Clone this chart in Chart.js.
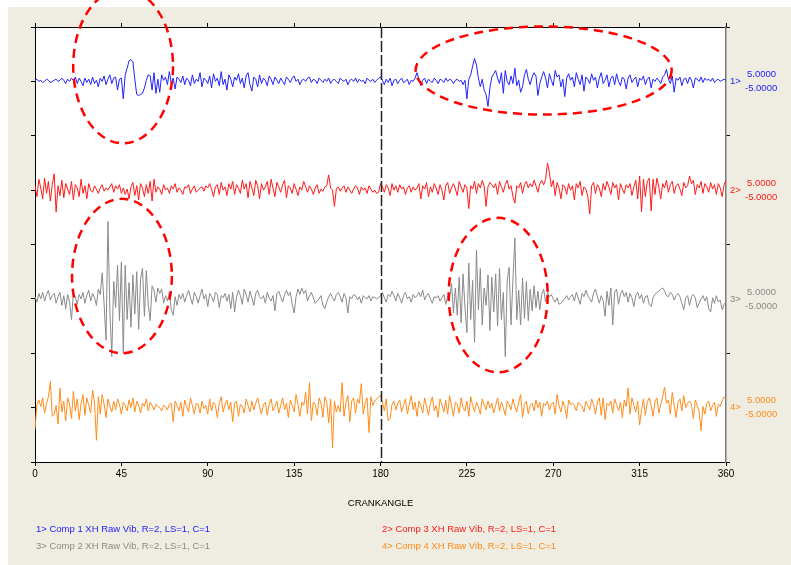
<!DOCTYPE html>
<html>
<head>
<meta charset="utf-8">
<title>Raw Vib</title>
<script src="https://cdn.jsdelivr.net/npm/chart.js@4.4.1/dist/chart.umd.min.js"></script>
<style>
body { margin:0; background:#fff; }
canvas { display:block; }
</style>
</head>
<body>
<canvas id="vibChart" width="791" height="565"></canvas>
<script>

// crank angle ticks (deg)
var angleTicks = [0, 45, 90, 135, 180, 225, 270, 315, 360];

var traceNames = ['1> Comp 1 XH Raw Vib, R=2, LS=1, C=1', '2> Comp 3 XH Raw Vib, R=2, LS=1, C=1',
                  '3> Comp 2 XH Raw Vib, R=2, LS=1, C=1', '4> Comp 4 XH Raw Vib, R=2, LS=1, C=1'];
var traceTags = ['1>', '2>', '3>', '4>'];
var traceMax = ['5.0000', '5.0000', '5.0000', '5.0000'];
var traceMin = ['-5.0000', '-5.0000', '-5.0000', '-5.0000'];
var traceColors = ['#2222ff', '#ff1a1a', '#8a8a8a', '#ff8c1a'];
var traceBase = [7, 5, 3, 1];

// one sample per degree, 0..360
var comp1 = [0.1,0.2,0.0,0.1,-0.1,0.0,0.2,0.1,-0.1,0.0,
0.1,0.2,0.0,0.1,0.3,0.1,-0.2,0.2,0.0,0.3,
0.1,0.4,-0.2,0.3,0.0,-0.4,0.3,-0.1,0.2,-0.3,
0.4,-0.2,0.1,-0.5,0.3,0.0,0.5,-0.3,0.2,0.6,
-0.2,0.3,0.4,-0.8,0.2,0.3,-1.6,0.6,1.2,1.9,
2.0,1.8,0.2,-1.2,-1.3,-1.2,-1.1,-0.6,0.1,0.6,
0.5,-0.8,0.8,-1.1,0.2,-1.0,0.6,0.1,0.4,-0.3,
0.9,-0.2,0.3,-0.7,0.4,0.2,-0.1,0.5,-0.3,0.3,
0.1,-0.4,0.6,-0.2,0.2,0.0,0.8,-0.5,0.3,0.1,
-0.2,0.5,-0.6,0.7,0.0,0.3,-0.4,0.9,-0.3,0.2,
-0.8,0.6,0.2,-0.5,0.4,0.1,0.7,-0.2,0.3,-0.6,
0.5,0.8,-0.3,-0.9,0.4,0.2,-0.5,0.6,-0.2,0.3,
0.1,-0.4,0.5,0.2,-0.3,0.4,0.1,-0.2,0.3,0.0,
-0.3,0.4,0.2,-0.1,0.3,0.5,0.0,0.2,-0.3,0.1,
0.2,0.0,0.3,0.4,-0.1,0.2,0.1,-0.2,0.3,0.1,
-0.1,0.2,0.0,0.3,-0.2,0.1,0.2,0.0,-0.2,0.3,
0.1,0.0,0.2,-0.3,0.1,0.2,0.0,0.3,-0.1,0.2,
0.0,0.1,-0.2,0.3,0.1,0.0,0.2,-0.1,0.1,0.3,
0.4,0.1,-0.3,0.2,-0.1,0.3,-0.4,0.1,0.2,-0.2,
0.1,0.3,-0.1,0.0,0.2,-0.3,0.1,0.0,0.3,0.8,
0.2,-0.4,0.1,0.3,-0.2,0.2,0.0,-0.1,0.3,0.1,
-0.2,0.2,0.1,-0.1,0.3,0.0,0.2,0.1,-0.2,0.1,
0.2,0.0,0.1,-0.3,0.1,-1.6,0.2,0.6,1.4,2.1,
1.5,0.3,-0.5,0.2,-0.8,-1.2,-2.3,-0.6,0.4,0.7,
1.0,0.3,-0.2,0.8,-1.1,1.0,0.0,-0.3,0.5,-0.2,
1.2,-0.4,0.1,-1.0,-0.5,0.6,1.1,0.2,-0.3,0.4,
0.8,0.5,-1.3,-0.2,0.4,0.9,0.3,-0.6,0.7,0.1,
-0.4,1.0,0.4,0.6,-0.5,0.2,-1.4,0.3,0.7,0.1,
0.4,-0.5,0.8,0.2,-0.3,0.6,-0.9,0.4,0.2,-0.2,
0.7,0.1,0.4,-0.6,0.3,0.8,-0.2,0.1,0.6,-0.5,
0.3,0.5,-0.3,0.7,0.0,-0.4,0.4,0.2,-0.7,0.3,
0.6,-0.1,0.2,0.4,-0.5,0.3,0.1,0.5,-0.3,0.2,
0.4,-0.6,0.2,0.0,0.3,0.1,-0.2,0.4,0.6,1.1,
0.2,-0.2,0.5,-1.0,0.3,0.1,0.4,-0.4,0.2,0.3,
-0.2,0.4,0.1,-0.6,0.3,0.2,0.0,0.4,-0.1,0.3,
0.1,0.2,0.0,0.3,-0.1,0.1,0.2,0.0,0.1,0.2,
0.1];

var comp3 = [0.4,-0.6,1.0,0.2,-0.8,1.1,-0.3,0.8,-1.0,0.5,
1.5,-2.0,0.4,-0.5,0.9,-0.7,0.6,0.1,-0.4,0.8,
-0.9,0.5,0.2,-0.6,1.0,-0.3,0.4,-0.8,0.6,0.0,
-0.2,0.4,0.1,-0.3,0.2,0.5,-0.1,0.2,0.0,0.3,
0.6,-0.2,0.4,0.1,0.5,-0.3,0.2,-0.4,0.1,-0.8,
0.3,0.7,-0.5,0.4,-0.9,0.6,0.2,-0.6,0.5,-0.3,
0.8,-1.0,1.0,-0.2,0.3,0.1,-0.4,0.5,0.0,0.2,
-0.3,0.4,0.1,0.6,-0.2,0.2,0.0,-0.4,0.3,0.2,
0.5,-0.3,0.1,0.4,-0.2,0.0,0.2,0.3,-0.1,0.4,
0.2,0.6,0.1,-0.6,0.3,0.5,-0.4,0.7,0.0,0.3,
-0.5,0.6,0.1,0.8,-0.4,0.5,0.2,-0.3,0.9,0.1,
0.6,-0.7,0.8,0.2,-0.5,0.9,0.4,-0.8,0.6,0.0,
0.3,0.8,-0.4,1.0,0.2,-0.6,0.7,0.3,-0.2,0.5,
0.9,-0.7,0.4,0.2,-0.3,0.6,0.1,-0.5,0.3,0.0,
0.8,0.3,-0.2,0.4,0.1,-0.4,0.2,0.5,-0.3,0.1,
-0.1,0.3,0.4,1.4,0.2,0.0,-1.5,0.1,0.3,-0.1,
0.2,0.4,-0.2,0.3,0.0,-0.3,0.1,0.4,0.2,-0.4,
0.3,0.0,0.2,-0.3,0.4,0.1,-0.2,0.0,-0.3,-0.2,
0.6,0.3,-0.2,0.5,0.2,-0.5,0.6,0.0,0.4,-0.2,
0.5,0.1,0.3,-0.4,0.2,0.4,-0.2,0.3,0.0,0.2,
0.6,-0.8,0.4,0.1,0.7,-0.6,0.3,-0.2,0.6,0.2,
-0.4,0.5,0.0,-0.9,0.4,0.7,-0.3,0.2,0.6,0.1,
-0.5,0.8,0.3,-0.2,0.5,0.2,-1.7,0.4,0.1,0.8,
-0.3,0.6,0.2,0.9,0.4,-1.5,0.3,0.7,0.5,0.2,
0.6,-0.4,0.8,0.3,-0.2,0.5,0.9,0.1,0.4,-0.6,
-1.2,0.4,0.2,0.7,-0.3,0.5,0.8,0.2,0.6,0.3,
0.9,0.4,-0.2,0.6,0.9,0.5,1.0,2.5,1.6,0.3,
0.9,-0.5,0.7,0.2,-0.8,0.5,0.3,-0.4,0.6,0.0,
0.4,-0.9,0.6,0.2,0.8,-0.5,0.3,0.1,-0.6,-2.2,
0.4,0.7,-0.3,0.5,0.2,-0.6,0.6,0.0,0.8,0.3,
-0.4,0.7,0.2,0.5,-0.9,0.6,0.1,-0.3,0.5,0.2,
0.6,-0.5,0.3,0.9,-0.8,1.3,-2.0,1.0,-0.6,0.8,
1.1,-1.9,1.0,-0.4,1.1,0.3,-0.8,0.6,0.2,0.9,
-0.2,0.5,0.8,-0.3,0.4,0.6,0.1,-0.5,0.7,0.2,
0.4,1.3,0.6,0.9,-0.4,0.5,0.2,0.8,-0.3,0.6,
0.3,-0.2,0.7,0.1,0.5,-0.4,0.6,0.2,-0.6,0.5,
0.9];

var comp2 = [0.2,-0.3,0.5,0.0,0.6,-0.2,0.4,0.8,-0.1,0.3,
0.5,-0.4,0.2,0.6,-0.6,0.3,-0.9,0.4,-0.3,-1.9,
0.5,0.2,-0.5,0.4,0.0,0.6,-0.4,0.3,0.8,-0.2,
0.5,0.1,-0.6,0.9,0.4,2.4,-0.5,-3.8,7.1,-1.0,
-5.3,1.6,-0.8,3.1,-2.0,3.4,-5.0,3.1,-1.9,1.5,
-2.6,2.2,-1.4,2.5,-2.8,1.8,2.8,-1.6,2.6,-0.5,
-2.0,1.2,0.8,-0.3,1.0,0.5,0.9,-0.4,0.3,-0.2,
0.6,-1.0,-1.5,0.2,-0.6,0.4,0.0,0.5,-0.3,0.3,
0.8,0.1,-0.5,0.6,0.2,-0.4,0.3,0.9,0.0,0.4,
-0.7,0.5,0.2,-0.3,0.6,0.4,-0.8,0.3,0.1,0.5,
-0.2,0.4,-0.9,0.6,-1.2,0.2,0.8,0.3,-0.5,0.9,
0.4,-0.3,0.7,0.1,-0.6,0.5,0.8,0.2,0.0,0.3,
-0.4,0.6,0.1,-0.2,0.3,-1.1,0.5,0.7,0.2,-0.3,
0.4,0.8,0.3,0.6,-0.5,-1.3,0.2,0.9,0.4,1.0,
0.5,0.8,-0.2,0.3,0.6,0.1,-0.4,-0.2,0.0,0.3,
-0.6,-0.9,-0.3,0.2,0.5,0.1,-0.2,0.4,0.6,0.2,
-0.3,0.5,0.1,-1.3,0.2,0.0,0.4,0.3,-0.1,0.2,
-0.4,0.3,0.1,0.0,0.3,-0.2,0.2,0.1,0.0,0.1,
0.3,0.6,0.1,-0.3,0.4,0.2,0.7,0.3,-0.2,0.5,
0.1,-0.4,0.3,0.6,0.0,0.2,-0.3,0.4,0.1,0.3,
0.6,0.2,0.8,-0.1,0.3,0.5,0.0,-0.4,0.2,0.1,
0.3,-0.2,0.1,0.4,-0.5,0.2,0.0,1.4,-1.3,1.0,
-1.5,2.0,-2.2,2.3,-0.8,-3.1,3.3,-1.9,1.7,-4.0,
4.5,-1.0,2.8,-2.4,1.0,-0.6,2.2,-2.9,2.0,-1.2,
2.3,-2.5,2.8,-1.9,0.6,-5.3,1.7,2.9,-2.4,1.8,
5.6,-1.9,0.8,-2.4,1.9,-1.8,1.6,-2.0,0.9,-1.1,
1.2,-0.8,0.7,-1.0,0.4,0.9,-0.3,0.6,0.2,0.4,
0.0,-0.3,0.1,-0.5,-0.4,-0.2,0.0,0.3,-0.1,0.2,
0.4,-0.2,0.6,0.1,-0.5,0.5,0.2,0.8,0.3,0.0,
-0.3,0.5,0.9,0.2,-0.4,0.3,-0.2,-1.6,0.7,-0.6,
1.0,-2.4,0.6,0.9,-0.5,0.4,0.8,0.2,0.6,-0.3,
0.5,0.1,-0.7,0.3,0.6,0.0,0.4,-0.4,0.2,0.3,
-0.5,-0.7,0.1,0.4,0.6,0.7,0.9,1.0,0.7,0.3,
0.2,0.6,0.4,-0.1,0.3,0.5,0.2,-0.4,-1.0,0.1,
0.3,-0.6,0.2,0.4,0.1,-0.8,-0.4,0.0,0.3,-0.2,
0.2,-0.9,-1.2,0.1,-0.4,0.3,-0.3,-0.1,-1.0,-0.5,
-0.3];

var comp4 = [-2.0,0.3,0.7,0.1,0.9,-0.5,0.4,1.0,2.4,-0.8,
-0.6,0.2,-1.5,1.8,-0.4,0.6,-1.2,0.9,0.3,-1.0,
1.5,-0.3,0.8,-1.1,0.4,1.2,-0.7,0.9,0.2,-0.5,
1.6,0.5,-3.0,1.0,-0.6,1.2,0.3,-0.9,0.8,0.1,
-0.4,0.6,-0.2,0.8,0.3,-0.6,0.5,0.2,-0.3,0.7,
0.0,0.9,-0.4,0.6,0.2,-0.5,0.4,0.1,0.8,-0.3,
0.5,0.2,-0.2,0.3,0.1,0.0,-0.3,0.2,0.1,-0.2,
0.3,0.4,-1.3,0.6,0.2,-0.3,0.5,-0.8,0.7,0.1,
-0.4,0.9,0.2,-0.6,0.4,0.3,-0.5,0.6,-0.1,0.2,
-0.6,0.8,-0.3,0.5,0.2,-0.9,0.4,1.0,-0.4,0.3,
0.7,-0.2,0.5,-1.3,0.4,0.6,-0.8,0.3,0.1,-0.5,
0.8,0.2,-0.4,0.6,-0.2,0.4,0.9,0.1,-0.6,0.3,
0.5,-0.7,0.3,0.8,-0.3,0.1,0.6,-0.5,0.2,0.9,
-0.2,0.4,-0.9,0.7,0.2,-0.4,1.2,0.3,-0.8,0.5,
0.2,1.4,-0.6,2.3,-1.2,0.5,0.3,-0.7,0.9,0.4,
-0.9,1.0,0.5,-1.4,0.8,-3.7,0.6,-0.4,0.2,-0.4,
2.3,-0.8,0.5,1.1,-1.3,0.6,0.9,-0.5,0.8,0.4,
2.2,-0.6,0.4,0.9,-2.3,1.0,0.2,0.6,0.8,1.0,
1.1,0.5,-0.3,0.8,-1.2,-1.0,0.3,0.6,-0.2,0.4,
0.7,-0.4,0.2,0.8,-0.6,0.3,1.1,-0.2,0.5,-0.8,
0.6,0.2,-0.5,0.9,0.1,-0.7,0.4,1.0,-0.3,0.2,
-0.9,0.8,0.3,-0.4,0.7,-0.6,1.1,0.2,-0.8,0.5,
0.3,-0.5,0.9,0.0,-0.3,0.6,-0.8,1.0,0.2,-0.4,
0.5,0.1,-0.6,0.8,0.3,-0.2,0.6,0.0,0.4,-0.5,
0.2,0.9,-0.3,0.5,0.0,-0.7,0.6,0.3,-0.2,0.8,
0.1,-0.4,0.5,1.2,-0.9,0.3,0.6,-0.6,0.2,0.4,
-0.3,0.7,0.0,0.5,-0.8,0.4,0.2,0.6,-0.2,0.3,
0.5,-0.6,1.2,0.2,-0.4,0.6,0.1,-1.0,0.7,0.3,
0.4,0.2,-0.3,0.5,0.3,0.1,-0.4,0.6,0.2,-0.2,
0.8,0.3,-0.6,0.5,0.9,-0.7,0.9,-1.1,0.4,0.2,
0.6,-0.5,0.8,0.3,-0.3,0.5,-0.9,0.7,0.1,1.8,
-0.6,0.9,0.2,-0.4,0.6,-1.6,-0.2,0.8,-0.7,0.5,
0.9,0.2,-0.8,0.6,0.9,-0.5,0.3,1.0,1.9,0.4,
0.7,-0.6,1.4,0.2,-0.9,0.5,0.8,-0.3,1.1,0.0,
0.4,0.6,0.3,-1.0,0.7,0.2,-0.4,-2.1,0.1,-0.6,
0.4,0.6,-0.3,0.2,0.5,-0.8,0.3,0.1,0.6,1.0,
0.8];

var traceValues = [comp1, comp3, comp2, comp4];

// red dashed rings drawn over the traces (deg, trace units)
var ringAngle = [45.9, 265, 45.3, 241.3];
var ringLevel = [7.28, 7.2, 3.42, 3.07];
var ringHalfWidth = [26, 66.7, 26, 25.8];
var ringHalfHeight = [1.42, 0.81, 1.42, 1.42];

function buildDatasets() {
    var sets = [];
    traceValues.forEach(function(vals, i) {
        var pts = [];
        vals.forEach(function(v, deg) {
            // each band is +/-5 around its base line
            pts.push({x: deg, y: traceBase[i] + v / 5});
        });
        sets.push({
            label: traceNames[i],
            data: pts,
            borderColor: traceColors[i],
            borderWidth: 1,
            pointRadius: 0,
            tension: 0,
            fill: false
        });
    });
    return sets;
}

var panelPlugin = {
    id: 'panel',
    beforeDraw: function(chart) {
        var ctx = chart.ctx, a = chart.chartArea;
        ctx.save();
        ctx.fillStyle = '#fff';
        ctx.fillRect(0, 0, chart.width, chart.height);
        ctx.fillStyle = '#efece1';
        ctx.fillRect(8, 7, chart.width - 8, chart.height - 7);
        ctx.fillStyle = '#fff';
        ctx.fillRect(a.left, a.top, a.right - a.left, a.bottom - a.top);
        ctx.restore();
    },
    afterDraw: function(chart) {
        var ctx = chart.ctx, a = chart.chartArea;
        var xs = chart.scales.x, ys = chart.scales.y;
        ctx.save();

        // TDC marker
        var x180 = Math.round(xs.getPixelForValue(180)) + 0.5;
        ctx.strokeStyle = '#222';
        ctx.lineWidth = 1.5;
        ctx.setLineDash([11, 3]);
        ctx.beginPath();
        ctx.moveTo(x180, a.top);
        ctx.lineTo(x180, a.bottom);
        ctx.stroke();

        // ranges on the right
        ctx.setLineDash([]);
        ctx.font = '9.5px "Liberation Sans", Arial, sans-serif';
        ctx.textBaseline = 'middle';
        ctx.textAlign = 'left';
        traceBase.forEach(function(b, i) {
            var y = ys.getPixelForValue(b);
            ctx.fillStyle = traceColors[i];
            ctx.fillText(traceTags[i], a.right + 4, y);
            ctx.fillText(traceMax[i], a.right + 21, y - 7);
            ctx.fillText(traceMin[i], a.right + 19, y + 7);
        });

        // legend, two columns
        chart.data.datasets.forEach(function(ds, i) {
            ctx.fillStyle = ds.borderColor;
            var lx = (i % 2 === 0) ? 36 : 382;
            var ly = 529 + Math.floor(i / 2) * 17;
            ctx.fillText(ds.label, lx, ly);
        });

        // rings
        ctx.strokeStyle = '#ff0000';
        ctx.lineWidth = 2.5;
        ctx.setLineDash([9, 6]);
        ringAngle.forEach(function(ang, i) {
            var cx = xs.getPixelForValue(ang);
            var cy = ys.getPixelForValue(ringLevel[i]);
            var rx = xs.getPixelForValue(ang + ringHalfWidth[i]) - cx;
            var ry = cy - ys.getPixelForValue(ringLevel[i] + ringHalfHeight[i]);
            ctx.beginPath();
            ctx.ellipse(cx, cy, rx, ry, 0, 0, Math.PI * 2);
            ctx.stroke();
        });
        ctx.restore();
    }
};

function drawChart() {
    var tickFont = {family: '"Liberation Sans", Arial, sans-serif', size: 10};
    var ctx = document.getElementById('vibChart').getContext('2d');
    new Chart(ctx, {
        type: 'line',
        data: {datasets: buildDatasets()},
        plugins: [panelPlugin],
        options: {
            responsive: false,
            animation: false,
            events: [],
            layout: {padding: 0},
            plugins: {legend: {display: false}, tooltip: {enabled: false}},
            scales: {
                x: {
                    type: 'linear', position: 'bottom', min: 0, max: 360,
                    afterBuildTicks: function(s) { s.ticks = angleTicks.map(function(v) { return {value: v}; }); },
                    ticks: {color: '#000', font: tickFont, padding: 2, maxRotation: 0, autoSkip: false},
                    grid: {drawOnChartArea: false, color: '#000', tickLength: 4},
                    border: {color: '#000', width: 1},
                    title: {display: true, text: 'CRANKANGLE', color: '#000',
                            font: {family: '"Liberation Sans", Arial, sans-serif', size: 9.5},
                            padding: {top: 0, bottom: 56}},
                    afterFit: function(s) { s.height = 103; }
                },
                xTop: {
                    type: 'linear', position: 'top', min: 0, max: 360,
                    afterBuildTicks: function(s) { s.ticks = angleTicks.map(function(v) { return {value: v}; }); },
                    ticks: {display: false},
                    grid: {drawOnChartArea: false, color: '#000', tickLength: 4},
                    border: {color: '#000', width: 1},
                    afterFit: function(s) { s.height = 27; }
                },
                y: {
                    type: 'linear', position: 'left', min: 0, max: 8,
                    ticks: {display: false, stepSize: 1},
                    grid: {drawOnChartArea: false, color: '#000', tickLength: 4},
                    border: {color: '#000', width: 1},
                    afterFit: function(s) { s.width = 35; }
                },
                yRight: {
                    type: 'linear', position: 'right', min: 0, max: 8,
                    ticks: {display: false, stepSize: 1},
                    grid: {
                        drawOnChartArea: false, tickLength: 4,
                        color: function(c) { return (c.tick && c.tick.value % 2 === 0) ? '#000' : 'rgba(0,0,0,0)'; }
                    },
                    border: {color: '#7a7a7a', width: 1.5},
                    afterFit: function(s) { s.width = 65; }
                }
            }
        }
    });
}

window.addEventListener('load', drawChart);
</script>
</body>
</html>
